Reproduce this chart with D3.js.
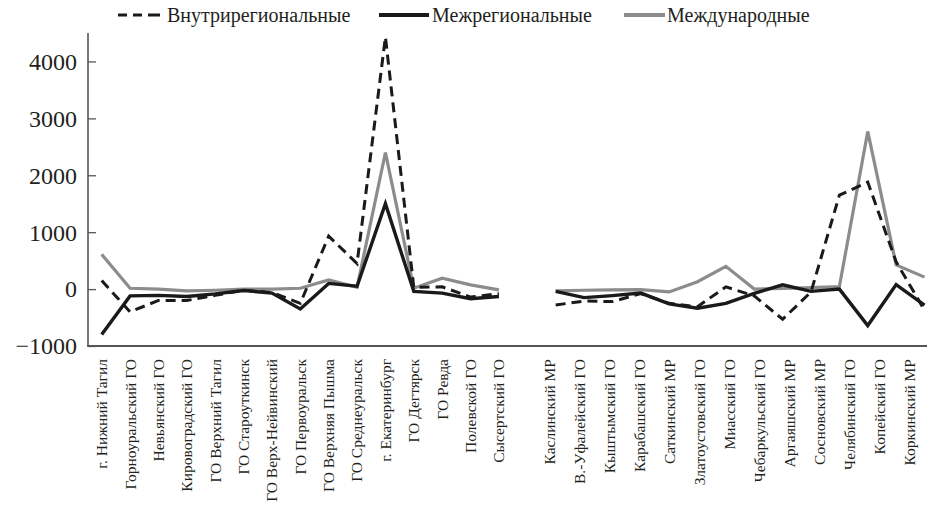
<!DOCTYPE html>
<html><head><meta charset="utf-8">
<script src="https://cdn.jsdelivr.net/npm/d3@7"></script>
<style>body{margin:0;background:#fff}svg{display:block}
text{font-family:"Liberation Serif","Times New Roman","DejaVu Serif",serif}</style>
</head><body>
<svg id="c" width="927" height="511"></svg>
<script>
// Categories (index 15 is an empty gap between the two groups)
const leftLabels = ["г. Нижний Тагил","Горноуральский ГО","Невьянский ГО","Кировоградский ГО","ГО Верхний Тагил","ГО Староуткинск","ГО Верх-Нейвинский","ГО Первоуральск","ГО Верхняя Пышма","ГО Среднеуральск","г. Екатеринбург","ГО Дегтярск","ГО Ревда","Полевской ГО","Сысертский ГО"];
const rightLabels = ["Каслинский МР","В.-Уфалейский ГО","Кыштымский ГО","Карабашский ГО","Саткинский МР","Златоустовский ГО","Миасский ГО","Чебаркульский ГО","Аргаяшский МР","Сосновский МР","Челябинский ГО","Копейский ГО","Коркинский МР"];
const seriesNames = ["Внутрирегиональные","Межрегиональные","Международные"];
const yTicks = [-1000,0,1000,2000,3000,4000];
// values: 15 left points, null gap, 14 right points
const intra = [150,-400,-200,-200,-110,-20,-60,-250,930,450,4430,30,40,-140,-80, null,
  -280,-210,-220,-80,-250,-310,40,-120,-530,-50,1650,1880,480,-370];
const inter = [-800,-120,-110,-130,-85,-25,-70,-350,100,50,1500,-40,-70,-170,-130, null,
  -40,-150,-115,-70,-260,-335,-250,-75,75,-40,0,-640,80,-280];
const intl = [610,15,0,-30,-20,0,0,15,160,30,2400,15,190,75,-15, null,
  -30,-20,-15,-10,-50,130,400,0,10,25,45,2770,425,210];

const svg = d3.select("#c");
const txt = "#231f20";
const x = d3.scaleLinear().domain([0, intra.length-1]).range([101.7, 924.5]);
const y = d3.scaleLinear().domain([-1000, 4500]).range([346, 33]);
const xr = d3.scalePoint().domain(rightLabels).range([550, 910]);

// axes
const ya = svg.append("g").attr("transform","translate(88,0)")
  .call(d3.axisRight(y).tickValues(yTicks).tickSize(8).tickFormat(""));
ya.select(".domain").remove();
ya.selectAll("line").attr("stroke","#555").attr("stroke-width",1.3);
svg.append("line").attr("x1",88).attr("x2",88).attr("y1",33).attr("y2",346.5)
  .attr("stroke","#555").attr("stroke-width",1.6);
svg.append("line").attr("x1",87.2).attr("x2",927).attr("y1",y(-1000)).attr("y2",y(-1000))
  .attr("stroke","#555").attr("stroke-width",2);
svg.append("g").selectAll("text").data(yTicks).join("text")
  .attr("x",77).attr("y",d=>y(d)).attr("dy","0.35em").attr("text-anchor","end")
  .attr("font-size",24).attr("fill",txt)
  .text(d=> d<0 ? "\u2212"+Math.abs(d) : d);

// category labels
svg.append("g").selectAll("text").data(leftLabels).join("text")
  .attr("transform",(d,i)=>`translate(${x(i)},359) rotate(-90)`)
  .attr("dy","0.35em").attr("text-anchor","end")
  .attr("font-size",15.5).attr("fill",txt).text(d=>d);
svg.append("g").selectAll("text").data(rightLabels).join("text")
  .attr("transform",d=>`translate(${xr(d)},359) rotate(-90)`)
  .attr("dy","0.35em").attr("text-anchor","end")
  .attr("font-size",15.5).attr("fill",txt).text(d=>d);

// lines
const line = d3.line().defined(d=>d!=null).x((d,i)=>x(i)).y(d=>y(d));
svg.append("path").datum(intl).attr("d",line).attr("fill","none")
  .attr("stroke","#8c8c8c").attr("stroke-width",3.2).attr("stroke-linejoin","miter");
svg.append("path").datum(inter).attr("d",line).attr("fill","none")
  .attr("stroke","#1a1a1a").attr("stroke-width",3.4).attr("stroke-linejoin","miter");
svg.append("path").datum(intra).attr("d",line).attr("fill","none")
  .attr("stroke","#1a1a1a").attr("stroke-width",3).attr("stroke-dasharray","10,6");

// legend
const lg = svg.append("g");
const items = [
  {name:seriesNames[0], x1:118, x2:163, tx:167, stroke:"#1a1a1a", w:3, dash:"9,6,9,6,3,0"},
  {name:seriesNames[1], x1:379, x2:429, tx:432, stroke:"#1a1a1a", w:4, dash:null},
  {name:seriesNames[2], x1:624, x2:665, tx:667, stroke:"#8c8c8c", w:4, dash:null}
];
items.forEach(it=>{
  const l = lg.append("line").attr("x1",it.x1).attr("x2",it.x2).attr("y1",15).attr("y2",15)
    .attr("stroke",it.stroke).attr("stroke-width",it.w);
  if(it.dash) l.attr("stroke-dasharray",it.dash);
  lg.append("text").attr("x",it.tx).attr("y",15).attr("dy","0.35em")
    .attr("font-size",20).attr("fill",txt).text(it.name);
});
</script>
</body></html>
